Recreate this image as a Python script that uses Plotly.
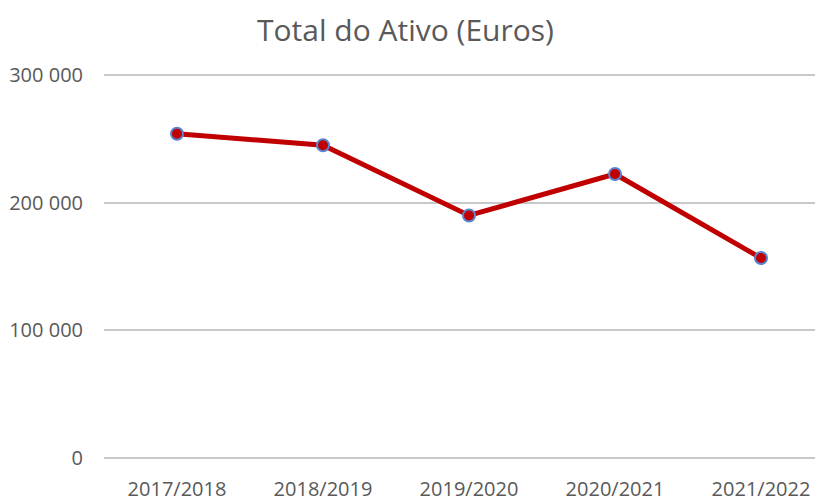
import plotly.graph_objects as go

categories = ["2017/2018", "2018/2019", "2019/2020", "2020/2021", "2021/2022"]
values = [253800, 244700, 189900, 222300, 156600]
y_ticks = [0, 100000, 200000, 300000]
title_text = "Total do Ativo (Euros)"

fig = go.Figure(go.Scatter(
    x=categories, y=values, mode="lines+markers",
    line=dict(color="#C00000", width=5),
    marker=dict(size=12, color="#C00000", line=dict(color="#5B83D0", width=2)),
))

font_family = "Open Sans, Liberation Sans, sans-serif"
fig.update_layout(
    width=823, height=496,
    margin=dict(l=96, r=11, t=64.4, b=43),
    paper_bgcolor="white", plot_bgcolor="white",
    separators=", ",
    showlegend=False,
    title=dict(text=title_text, x=0.483, xanchor="center", y=0.9556, yanchor="middle",
               font=dict(family=font_family, size=30, color="#595959")),
    font=dict(family=font_family, size=20, color="#595959"),
)
fig.update_xaxes(type="category", range=[-0.5, 4.404], showgrid=False, zeroline=False,
                 showline=False, ticks="", ticklabelstandoff=14, automargin=False,
                 tickfont=dict(size=20, color="#595959"))
fig.update_yaxes(range=[-2000, 302000], tickvals=y_ticks, tickformat=",d",
                 showgrid=True, gridcolor="#C8C8C8", gridwidth=2, zeroline=False,
                 showline=False, ticks="", ticklabelstandoff=20, automargin=False,
                 tickfont=dict(size=20, color="#595959"))

fig.write_html("out.html")
